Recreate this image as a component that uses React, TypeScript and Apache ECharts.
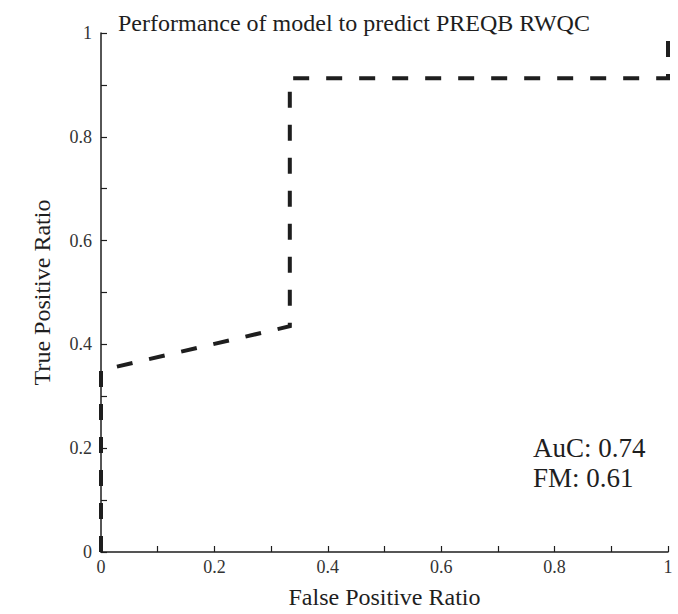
import React, { useEffect, useRef } from "react";
import * as echarts from "echarts";

const titleText = "Performance of model to predict PREQB RWQC";
const xName = "False Positive Ratio";
const yName = "True Positive Ratio";
const fpr = [0, 0, 0.333, 0.333, 1, 1];
const tpr = [0, 0.35, 0.435, 0.913, 0.913, 1];
const statLines = ["AuC: 0.74", "FM: 0.61"];

const FONT = "'Liberation Serif', 'Times New Roman', serif";
const INK = "#1e1e1e";

export default function App() {
  const ref = useRef<HTMLDivElement>(null);
  useEffect(() => {
    document.body.style.margin = "0";
    const chart = echarts.init(ref.current!, null, { renderer: "svg" });
    const fmt = (v: number) => (v === 0 ? "0" : v === 1 ? "1" : String(Math.round(v * 10) / 10));
    chart.setOption({
      animation: false,
      backgroundColor: "#ffffff",
      textStyle: { fontFamily: FONT },
      title: {
        text: titleText,
        left: 113,
        top: 6,
        textStyle: { fontFamily: FONT, fontSize: 24, fontWeight: "normal", color: INK },
      },
      grid: { left: 101, right: 10, top: 33, bottom: 62, containLabel: false },
      xAxis: {
        type: "value",
        min: 0,
        max: 1,
        interval: 0.2,
        name: xName,
        nameLocation: "middle",
        nameGap: 33,
        nameTextStyle: { fontFamily: FONT, fontSize: 24, color: INK },
        axisLine: { show: true, onZero: false, lineStyle: { color: INK, width: 1.5 } },
        axisTick: { show: true, inside: true, length: 6, lineStyle: { color: INK, width: 1.2 } },
        minorTick: { show: true, splitNumber: 2, length: 6, lineStyle: { color: INK, width: 1.2 } },
        axisLabel: { fontFamily: FONT, fontSize: 18, color: "#333", margin: 6, formatter: fmt },
        splitLine: { show: false },
        minorSplitLine: { show: false },
      },
      yAxis: {
        type: "value",
        min: 0,
        max: 1,
        interval: 0.2,
        name: yName,
        nameLocation: "middle",
        nameGap: 47,
        nameTextStyle: { fontFamily: FONT, fontSize: 24, color: INK },
        axisLine: { show: true, onZero: false, lineStyle: { color: INK, width: 1.5 } },
        axisTick: { show: true, inside: true, length: 6, lineStyle: { color: INK, width: 1.2 } },
        minorTick: { show: true, splitNumber: 2, length: 6, lineStyle: { color: INK, width: 1.2 } },
        axisLabel: { fontFamily: FONT, fontSize: 18, color: "#333", margin: 9, formatter: fmt },
        splitLine: { show: false },
        minorSplitLine: { show: false },
      },
      series: [
        {
          type: "line",
          data: fpr.map((x, i) => [x, tpr[i]]),
          showSymbol: false,
          symbol: "none",
          clip: false,
          lineStyle: { color: INK, width: 4, type: [16, 17], cap: "butt", join: "miter" },
        },
      ],
      graphic: [
        {
          type: "text",
          left: 533,
          top: 433,
          style: {
            text: statLines.join("\n"),
            fontFamily: FONT,
            fontSize: 27,
            lineHeight: 30,
            fill: INK,
          },
        },
      ],
    });
    return () => chart.dispose();
  }, []);
  return <div ref={ref} style={{ width: 678, height: 614, position: "absolute", left: 0, top: 0 }} />;
}
